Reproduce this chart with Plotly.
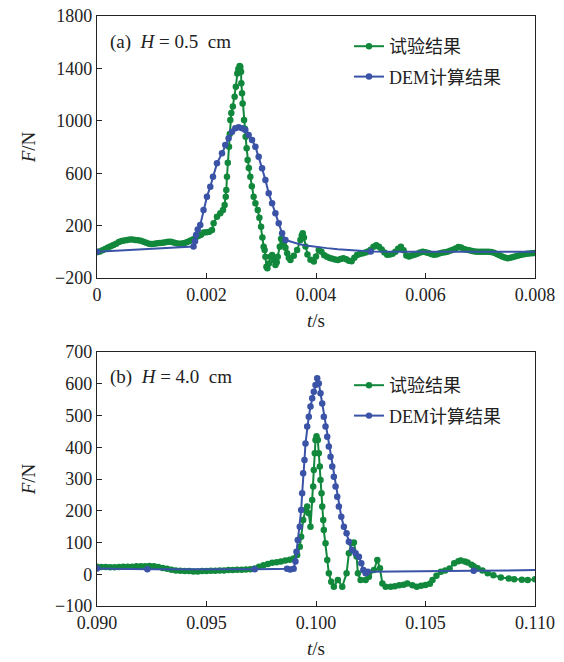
import plotly.graph_objects as go

# ---------------- Panel (a): H = 0.5 cm ----------------
# experiment (t in ms, F in N)
exp_a_t_ms = [0.00, 0.05, 0.10, 0.15, 0.20, 0.25, 0.30, 0.35, 0.40, 0.45, 0.50, 0.55, 0.60, 0.65, 0.70,
              0.75, 0.80, 0.85, 0.90, 0.95, 1.00, 1.05, 1.10, 1.15, 1.20, 1.25, 1.30, 1.35, 1.40, 1.45,
              1.50, 1.55, 1.60, 1.65, 1.70, 1.75, 1.80, 1.85, 1.90, 1.95, 2.00, 2.05, 2.10,
              2.130, 2.191, 2.252, 2.301, 2.331, 2.352, 2.362, 2.374, 2.389, 2.411, 2.426, 2.435, 2.453,
              2.481, 2.514, 2.536, 2.563, 2.581, 2.605, 2.618, 2.631, 2.636, 2.649, 2.660, 2.686, 2.700,
              2.715, 2.733, 2.751, 2.773, 2.801, 2.828, 2.861, 2.893, 2.935, 2.966, 2.997, 3.021, 3.044,
              3.062, 3.076, 3.094, 3.112, 3.140, 3.167, 3.198, 3.228, 3.259, 3.283, 3.301, 3.338, 3.363,
              3.387, 3.411, 3.442, 3.473, 3.503, 3.533, 3.594, 3.655, 3.716, 3.740, 3.758, 3.780, 3.808,
              3.844, 3.899, 3.960,
              4.00, 4.05, 4.10, 4.15, 4.20, 4.25, 4.30, 4.35, 4.40, 4.45, 4.50, 4.55, 4.60, 4.65, 4.70,
              4.75, 4.80, 4.85, 4.90, 4.95, 5.00, 5.05, 5.10, 5.15, 5.20, 5.25, 5.30, 5.35, 5.40, 5.45,
              5.50, 5.55, 5.60, 5.65, 5.70, 5.75, 5.80, 5.85, 5.90, 5.95, 6.00, 6.05, 6.10, 6.15, 6.20,
              6.25, 6.30, 6.35, 6.40, 6.45, 6.50, 6.55, 6.60, 6.65, 6.70, 6.75, 6.80, 6.85, 6.90, 6.95,
              7.00, 7.05, 7.10, 7.15, 7.20, 7.25, 7.30, 7.35, 7.40, 7.45, 7.50, 7.55, 7.60, 7.65, 7.70,
              7.75, 7.80, 7.85, 7.90, 7.95, 8.00]
exp_a_F = [-3, 3, 12, 22, 32, 42, 52, 62, 74, 82, 87, 90, 94, 93, 91,
           88, 84, 77, 70, 62, 60, 62, 65, 68, 70, 73, 76, 76, 71, 66,
           62, 63, 68, 75, 84, 94, 108, 120, 130, 148, 150, 154, 167,
           218, 268, 294, 319, 357, 420, 472, 573, 680, 802, 900, 1006, 1060,
           1110, 1184, 1260, 1362, 1395, 1418, 1410, 1375, 1286, 1210, 1133, 1006, 940,
           879, 790, 701, 640, 573, 500, 421, 370, 319, 260, 192, 110, 39,
           14, -37, -114, -125, -90, -37, -24, -63, -101, -80, -37, 39, 100,
           90, 65, 30, -11, -45, -63, -30, 14, 90, 125, 141, 110, 40,
           -20, -60, -75,
           -35, 14, 0, -26, -38, -47, -53, -58, -62, -55, -50, -56, -68, -72, -45,
           -25, -16, -12, -6, 2, 15, 38, 50, 38, 18, -5, -23, -21, -14, 0,
           24, 38, 12, -28, -36, -28, -22, -14, -6, 0, -3, -9, -16, -23, -20,
           -13, -8, -4, 0, 8, 16, 26, 37, 32, 22, 15, 11, 6, 2, 0,
           1, 0, 1, 0, -2, -8, -16, -26, -35, -44, -50, -46, -40, -34, -28,
           -23, -19, -15, -13, -11, -10]

# DEM simulation (t in ms, F in N)
dem_a_t_ms = [0.0, 1.763, 1.790, 1.810, 1.840, 1.886, 1.946, 2.008, 2.069, 2.118, 2.191, 2.283, 2.343,
              2.404, 2.466, 2.526, 2.587, 2.649, 2.709, 2.770, 2.832, 2.893, 2.953, 3.015, 3.076,
              3.136, 3.198, 3.259, 3.319, 3.381, 3.442]
dem_a_F = [0, 40, 80, 128, 170, 205, 319, 421, 497, 573, 675, 752, 815,
           866, 917, 943, 950, 943, 930, 892, 853, 802, 726, 637, 548,
           447, 370, 294, 218, 141, 90]
dem_a_tail_t_ms = [3.442, 3.55, 3.70, 3.85, 4.00, 4.20, 4.40, 4.60, 4.80, 5.00, 5.50, 6.00, 7.00, 8.00]
dem_a_tail_F = [90, 75, 58, 46, 37, 28, 20, 13, 7, 3, 1, 0, 0, 0]

# ---------------- Panel (b): H = 4.0 cm ----------------
exp_b_t = [0.0900, 0.0902, 0.0904, 0.0906, 0.0908, 0.0910, 0.0912, 0.0914, 0.0916, 0.0918, 0.0920,
           0.0922, 0.0924, 0.0926, 0.0928, 0.0930, 0.0932, 0.0934, 0.0936, 0.0938, 0.0940, 0.0942,
           0.0944, 0.0946, 0.0948, 0.0950, 0.0952, 0.0954, 0.0956, 0.0958, 0.0960, 0.0962, 0.0964,
           0.0966, 0.0968, 0.0970, 0.0972, 0.0974, 0.0976, 0.0978, 0.0980, 0.0982, 0.0984, 0.0986,
           0.0988, 0.09898, 0.09914, 0.099259, 0.099323, 0.099414, 0.09952, 0.099597, 0.099671,
           0.099748, 0.099826, 0.099872, 0.099899, 0.099945, 0.099977, 0.100023, 0.100082, 0.100128,
           0.100174, 0.100206, 0.100252, 0.100284, 0.10033, 0.100357, 0.100435, 0.100513, 0.100586,
           0.100696, 0.100815, 0.100998, 0.101199, 0.101396, 0.101501, 0.101611, 0.10173, 0.101854,
           0.101913, 0.102037, 0.102266, 0.102417, 0.102646, 0.102801, 0.10292, 0.10303, 0.103181,
           0.10341, 0.1036, 0.1038, 0.1040, 0.10417, 0.1044, 0.1046, 0.1048, 0.1050, 0.1052,
           0.10532, 0.1055, 0.1057, 0.1059, 0.1061, 0.10631, 0.1065, 0.10661, 0.1068, 0.10692,
           0.1071, 0.1072, 0.10738, 0.1076, 0.10784, 0.1081, 0.10844, 0.1088, 0.10905, 0.1094,
           0.10967, 0.1100]
exp_b_F = [24, 23, 23, 22, 22, 23, 24, 24, 24, 25, 25,
           25, 26, 25, 23, 20, 17, 14, 12, 11, 10, 10,
           9, 9, 10, 10, 11, 11, 12, 12, 13, 13, 14,
           14, 15, 16, 18, 24, 28, 32, 36, 38, 40, 43,
           46, 50, 61, 87, 118, 171, 202, 213, 192,
           150, 234, 276, 328, 381, 423, 435, 423, 381,
           339, 297, 255, 213, 171, 139, 98, 45, 3,
           -24, -39, -18, -39, 3, 66, 98, 100, 56,
           3, -18, -18, -8, 13, 45, 19, -29, -39,
           -39, -38, -35, -33, -29, -35, -39, -36, -34, -30,
           -18, -5, 8, 12, 18, 35, 41, 43, 40, 37,
           30, 25, 19, 12, 3, -3, -10, -13, -16, -17,
           -18, -16]

dem_b_t = [0.0900, 0.0923, 0.0972, 0.09868, 0.09882, 0.09898, 0.099062, 0.099108, 0.099167, 0.099259,
           0.099323, 0.099369, 0.099414, 0.099474, 0.09952, 0.099597, 0.099671, 0.099748, 0.099826,
           0.099899, 0.099977, 0.100055, 0.100128, 0.100206, 0.100284, 0.100357, 0.100435, 0.100513,
           0.100586, 0.100664, 0.100742, 0.100815, 0.100893, 0.10097, 0.101044, 0.101154, 0.101273,
           0.101396, 0.101501, 0.101657, 0.101808, 0.101959, 0.102069, 0.10216, 0.102266, 0.102371,
           0.1072, 0.1100]
dem_b_F = [18, 16, 16, 17, 15, 17, 40, 71, 108, 150,
           202, 255, 318, 360, 412, 465, 496, 528, 554,
           575, 596, 617, 601, 570, 538, 496, 465, 433,
           402, 370, 339, 307, 276, 244, 213, 181, 150,
           129, 102, 76, 66, 55, 35, 13, 3, 8,
           11, 13]

for a, b in [(exp_a_t_ms, exp_a_F), (dem_a_t_ms, dem_a_F), (dem_a_tail_t_ms, dem_a_tail_F),
             (exp_b_t, exp_b_F), (dem_b_t, dem_b_F)]:
    assert len(a) == len(b), (len(a), len(b))

GREEN = "#11883b"
BLUE = "#3a53a6"
SERIF = "Liberation Serif, Noto Sans CJK SC, serif"
LBL_EXP = "试验结果"
LBL_DEM = "DEM计算结果"

ms = lambda arr: [v / 1000.0 for v in arr]

W, H = 564, 662
fig = go.Figure()

MS = 6.5
lw = 2


def mkr(color, size=MS):
    return dict(color=color, size=size, opacity=1, line=dict(width=0))


# panel (a)
fig.add_trace(go.Scatter(x=ms(exp_a_t_ms), y=exp_a_F, mode="lines+markers", name=LBL_EXP,
                         line=dict(color=GREEN, width=lw), marker=mkr(GREEN),
                         xaxis="x", yaxis="y", legend="legend", legendgroup="a1"))
fig.add_trace(go.Scatter(x=ms(dem_a_tail_t_ms), y=dem_a_tail_F, mode="lines+markers", showlegend=False,
                         line=dict(color=BLUE, width=lw),
                         marker=mkr(BLUE, [MS if abs(t - 5.0) < 1e-9 else 0 for t in dem_a_tail_t_ms]),
                         xaxis="x", yaxis="y"))
fig.add_trace(go.Scatter(x=ms(dem_a_t_ms), y=dem_a_F, mode="lines+markers", name=LBL_DEM,
                         line=dict(color=BLUE, width=lw), marker=mkr(BLUE),
                         xaxis="x", yaxis="y", legend="legend", legendgroup="a2"))

# panel (b)
fig.add_trace(go.Scatter(x=exp_b_t, y=exp_b_F, mode="lines+markers", name=LBL_EXP,
                         line=dict(color=GREEN, width=lw), marker=mkr(GREEN),
                         xaxis="x2", yaxis="y2", legend="legend2", legendgroup="b1"))
fig.add_trace(go.Scatter(x=dem_b_t, y=dem_b_F, mode="lines+markers", name=LBL_DEM,
                         line=dict(color=BLUE, width=lw),
                         marker=mkr(BLUE, [MS if t < 0.1099 else 0 for t in dem_b_t]),
                         xaxis="x2", yaxis="y2", legend="legend2", legendgroup="b2"))

x_a_ticks = [0, 0.002, 0.004, 0.006, 0.008]
x_a_text = ["0", "0.002", "0.004", "0.006", "0.008"]
y_a_ticks = [-200, 200, 600, 1000, 1400, 1800]
y_a_text = ["\u2212200", "200", "600", "1000", "1400", "1800"]
x_b_ticks = [0.090, 0.095, 0.100, 0.105, 0.110]
x_b_text = ["0.090", "0.095", "0.100", "0.105", "0.110"]
y_b_ticks = [-100, 0, 100, 200, 300, 400, 500, 600, 700]
y_b_text = ["\u2212100", "0", "100", "200", "300", "400", "500", "600", "700"]

tickfont = dict(family=SERIF, size=18, color="#222")
titlefont = dict(family=SERIF, size=19, color="#222")
ax_common = dict(showline=True, linecolor="#222", linewidth=1.3, mirror=True, ticks="inside",
                 ticklen=5, tickwidth=1, tickcolor="#222", showgrid=False, zeroline=False,
                 tickfont=tickfont, tickmode="array", automargin=False)

xd = [97 / W, 535 / W]
fig.update_layout(
    width=W, height=H, margin=dict(l=0, r=0, t=0, b=0, autoexpand=False),
    paper_bgcolor="white", plot_bgcolor="white",
    xaxis=dict(domain=xd, range=[0, 0.008], tickvals=x_a_ticks, ticktext=x_a_text, anchor="y",
               title=dict(text="<i>t</i>/s", font=titlefont, standoff=9), **ax_common),
    yaxis=dict(domain=[1 - 278 / H, 1 - 16 / H], range=[-200, 1800], tickvals=y_a_ticks, ticktext=y_a_text,
               anchor="x", title=dict(text="<i>F</i>/N", font=titlefont, standoff=14), **ax_common),
    xaxis2=dict(domain=xd, range=[0.090, 0.110], tickvals=x_b_ticks, ticktext=x_b_text, anchor="y2",
                title=dict(text="<i>t</i>/s", font=titlefont, standoff=9), **ax_common),
    yaxis2=dict(domain=[1 - 606 / H, 1 - 352 / H], range=[-100, 700], tickvals=y_b_ticks, ticktext=y_b_text,
                anchor="x2", title=dict(text="<i>F</i>/N", font=titlefont, standoff=14), **ax_common),
    legend=dict(x=349 / W, y=1 - 28 / H, xanchor="left", yanchor="top", bgcolor="rgba(0,0,0,0)",
                font=dict(family=SERIF, size=18, color="#222"), tracegroupgap=4, traceorder="grouped"),
    legend2=dict(x=349 / W, y=1 - 367 / H, xanchor="left", yanchor="top", bgcolor="rgba(0,0,0,0)",
                 font=dict(family=SERIF, size=18, color="#222"), tracegroupgap=4, traceorder="grouped"),
    annotations=[
        dict(text="(a)  <i>H</i> = 0.5  cm", x=108 / W, y=1 - 42 / H, xref="paper", yref="paper",
             xanchor="left", yanchor="middle", showarrow=False,
             font=dict(family=SERIF, size=19, color="#222")),
        dict(text="(b)  <i>H</i> = 4.0  cm", x=108 / W, y=1 - 377 / H, xref="paper", yref="paper",
             xanchor="left", yanchor="middle", showarrow=False,
             font=dict(family=SERIF, size=19, color="#222")),
    ],
)

fig.write_html("out.html")
